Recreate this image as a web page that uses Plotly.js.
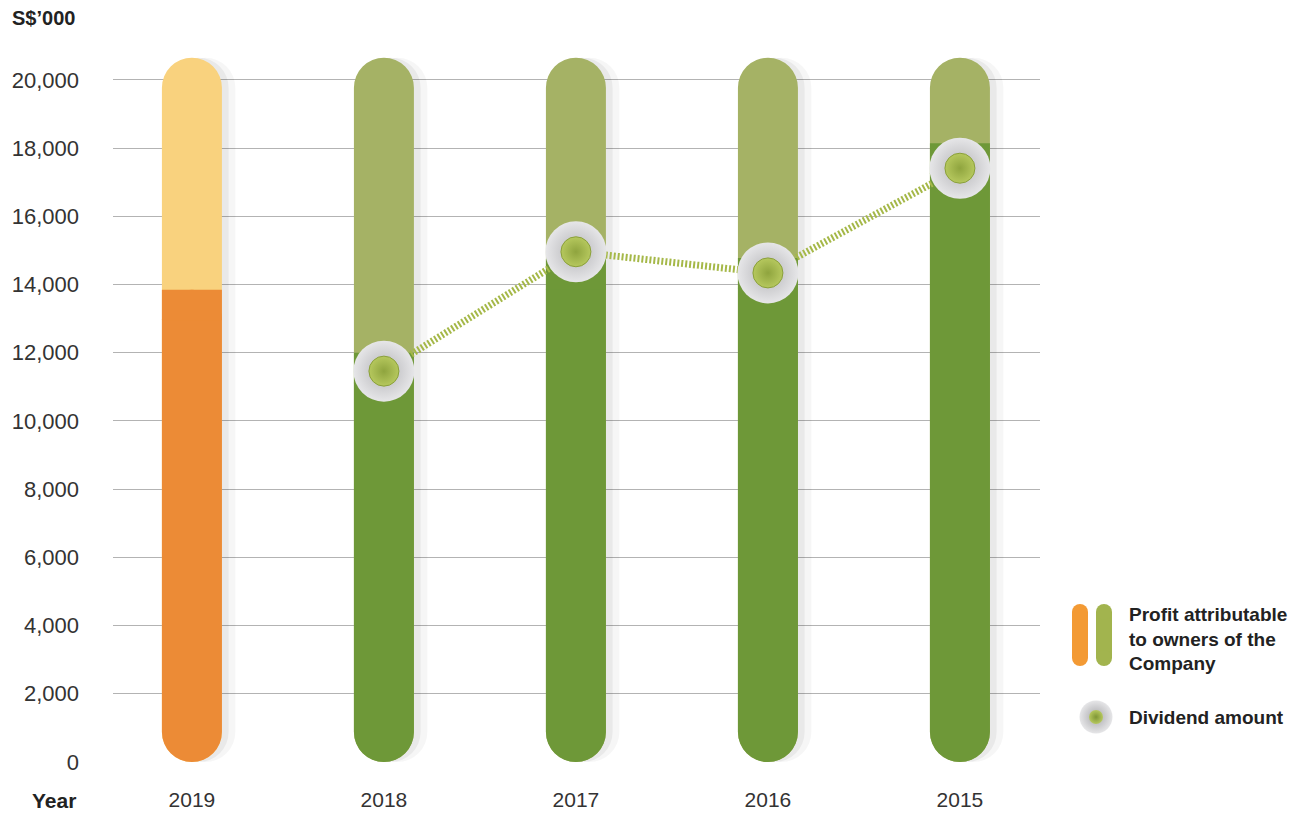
<!DOCTYPE html>
<html>
<head>
<meta charset="utf-8">
<script src="https://cdn.plot.ly/plotly-3.0.1.min.js"></script>
<style>html,body{margin:0;padding:0;background:#fff;}#chart{width:1300px;height:814px;}</style>
</head>
<body>
<div id="chart"></div>
<script>
// ---- data ----
const years = ['2019', '2018', '2017', '2016', '2015'];
const profit = [13850, 12000, 14750, 14780, 18140];
const dividend = [null, 11460, 14960, 14340, 17410];
const yTicks = [0, 2000, 4000, 6000, 8000, 10000, 12000, 14000, 16000, 18000, 20000];

// ---- style constants ----
const CAP = 20650;          // capsule extent (background track)
const BW = 0.3125;          // bar width in category units
const RND = 900;            // data height of the rounded end (≈30px)
const darkCol = years.map(y => y === '2019' ? '#ec8b36' : '#6e9838');
const lightCol = years.map(y => y === '2019' ? '#f9d27e' : '#a5b265');
const FONT = 'Liberation Sans, Arial, sans-serif';
const BOLD = 'Liberation Sans Narrow, Liberation Sans, Arial, sans-serif';

const traces = [];
// soft shadows to the right (full capsules)
[[0.07, 'rgba(0,0,0,0.035)'], [0.035, 'rgba(0,0,0,0.05)']].forEach(([off, c]) => {
  traces.push({type: 'bar', x: years, y: years.map(() => -CAP), base: years.map(() => CAP),
    width: BW, offset: -BW / 2 + off, marker: {color: c, cornerradius: 30}, hoverinfo: 'skip', showlegend: false});
});
// light track: full capsule
traces.push({type: 'bar', x: years, y: years.map(() => -CAP), base: years.map(() => CAP), width: BW,
  marker: {color: lightCol, cornerradius: 30}, hoverinfo: 'skip', showlegend: false});
// profit: capsule from 0 to profit
traces.push({type: 'bar', x: years, y: profit.map(v => -v), base: profit, width: BW,
  marker: {color: darkCol, cornerradius: 30}, name: 'Profit attributable to owners of the Company',
  customdata: profit, hovertemplate: '%{x}: %{customdata:,}<extra></extra>', showlegend: false});
// square off the top end of the profit part
traces.push({type: 'bar', x: years, y: profit.map(() => -RND), base: profit, width: BW,
  marker: {color: darkCol, cornerradius: 0}, hoverinfo: 'skip', showlegend: false});
// dividend line
traces.push({type: 'scatter', mode: 'lines', x: years, y: dividend, cliponaxis: false,
  line: {color: '#a5b848', width: 7, dash: '2px,2px'}, hoverinfo: 'skip', showlegend: false});
// dividend markers
traces.push({type: 'scatter', mode: 'markers', x: years, y: dividend, cliponaxis: false,
  marker: {size: 61, color: '#e6e6e8', gradient: {type: 'radial', color: '#b4b4b7'},
    line: {width: 0}}, name: 'Dividend amount', showlegend: false,
  hovertemplate: '%{x}: %{y:,}<extra></extra>'});
traces.push({type: 'scatter', mode: 'markers', x: years, y: dividend, cliponaxis: false,
  marker: {size: 30, color: '#b6c85e', gradient: {type: 'radial', color: '#8fa43e'},
    line: {width: 1, color: '#8aa03a'}}, hoverinfo: 'skip', showlegend: false});

// legend icons on pixel-space overlay axes
traces.push({type: 'scatter', mode: 'lines+markers', xaxis: 'x2', yaxis: 'y2', x: [1080, 1080], y: [612, 658],
  line: {color: '#f39a34', width: 16}, marker: {size: 16, color: '#f39a34'}, hoverinfo: 'skip', showlegend: false});
traces.push({type: 'scatter', mode: 'lines+markers', xaxis: 'x2', yaxis: 'y2', x: [1104, 1104], y: [612, 658],
  line: {color: '#a2b44e', width: 16}, marker: {size: 16, color: '#a2b44e'}, hoverinfo: 'skip', showlegend: false});
traces.push({type: 'scatter', mode: 'markers', xaxis: 'x2', yaxis: 'y2', x: [1096], y: [717],
  marker: {size: 33, color: '#e6e6e8', gradient: {type: 'radial', color: '#a8a8ab'}}, hoverinfo: 'skip', showlegend: false});
traces.push({type: 'scatter', mode: 'markers', xaxis: 'x2', yaxis: 'y2', x: [1096], y: [717],
  marker: {size: 14, color: '#b6c85e', gradient: {type: 'radial', color: '#7f9636'}}, hoverinfo: 'skip', showlegend: false});

const layout = {
  width: 1300, height: 814,
  margin: {l: 0, r: 0, t: 0, b: 0},
  paper_bgcolor: '#ffffff', plot_bgcolor: 'rgba(0,0,0,0)',
  barmode: 'overlay', showlegend: false,
  xaxis: {domain: [113 / 1300, 1040 / 1300], type: 'category', range: [-0.411, 4.417],
    showgrid: false, zeroline: false, showline: false, ticks: '', fixedrange: true,
    tickfont: {family: FONT, size: 21, color: '#333'}, ticklabelstandoff: 23, anchor: 'y'},
  yaxis: {domain: [52 / 814, 758 / 814], range: [0, 20700],
    tickvals: yTicks, ticktext: yTicks.map(v => v.toLocaleString('en-US')),
    showgrid: true, gridcolor: '#b3b3b3', gridwidth: 1, zeroline: false, showline: false,
    ticks: '', ticklabelstandoff: 33, tickfont: {family: FONT, size: 22, color: '#333'}, anchor: 'x'},
  xaxis2: {domain: [0, 1], range: [0, 1300], visible: false, anchor: 'y2', fixedrange: true},
  yaxis2: {domain: [0, 1], range: [814, 0], visible: false, anchor: 'x2', fixedrange: true},
  annotations: [
    {xref: 'x2', yref: 'y2', x: 77, y: 18, xanchor: 'right', yanchor: 'middle', showarrow: false,
      text: '<b>S$’000</b>', font: {family: BOLD, size: 20, color: '#222'}},
    {xref: 'x2', yref: 'y2', x: 78, y: 800, xanchor: 'right', yanchor: 'middle', showarrow: false,
      text: '<b>Year</b>', font: {family: BOLD, size: 21, color: '#222'}},
    {xref: 'x2', yref: 'y2', x: 1127, y: 639, xanchor: 'left', yanchor: 'middle', align: 'left', showarrow: false,
      text: '<b>Profit attributable<br>to owners of the<br>Company</b>', font: {family: BOLD, size: 19, color: '#222'}},
    {xref: 'x2', yref: 'y2', x: 1127, y: 717, xanchor: 'left', yanchor: 'middle', align: 'left', showarrow: false,
      text: '<b>Dividend amount</b>', font: {family: BOLD, size: 19, color: '#222'}}
  ]
};

Plotly.newPlot('chart', traces, layout, {displayModeBar: false, staticPlot: true});
</script>
</body>
</html>
